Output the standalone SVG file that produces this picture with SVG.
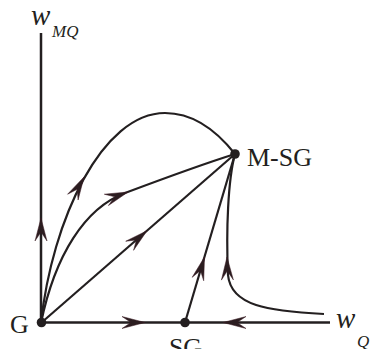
<svg xmlns="http://www.w3.org/2000/svg" width="370" height="349" viewBox="0 0 370 349">
<style>
.ln{fill:none;stroke:#231f20;stroke-width:2.2;stroke-linecap:butt}
.ax{fill:none;stroke:#231f20;stroke-width:2.5}
.ah{fill:#2b1d20;stroke:#3a1a22;stroke-width:0.5}
.dot{fill:#231f20}
.t{font-family:"Liberation Serif","Times New Roman",serif;fill:#231f20}
.m{font-family:"Liberation Serif","Times New Roman",serif;font-style:italic;fill:#231f20}
</style>
<defs>
<path id="ah" d="M0,0 L-23,-6 L-14,0 L-23,6 Z"/>
</defs>
<g id="connectors">
<path class="ax" d="M41,33 V323"/>
<path class="ax" d="M41,322.5 H330"/>
<path class="ln" d="M41,323 L235,154"/>
<path class="ln" d="M41,323 C55,255 85,208 125,193 S200,165 235,154"/>
<path class="ln" d="M41,323 C52,220 102,113 165,113 C197,113 220,135 235,154"/>
<path class="ln" d="M185,322.5 L235,154"/>
<path class="ln" d="M324,314 C268,311 231,306 228,275 C226,230 228,180 235,154"/>
<use href="#ah" class="ah" transform="translate(41,218) rotate(-90)"/>
<use href="#ah" class="ah" transform="translate(145,322.5)"/>
<use href="#ah" class="ah" transform="translate(223,322.5) rotate(180)"/>
<use href="#ah" class="ah" transform="translate(204.5,257) rotate(-73.4)"/>
<use href="#ah" class="ah" transform="translate(227,257) rotate(-91)"/>
<use href="#ah" class="ah" transform="translate(147,230.7) rotate(-41)"/>
<use href="#ah" class="ah" transform="translate(128,192) rotate(-20)"/>
<use href="#ah" class="ah" transform="translate(84,177) rotate(-61)"/>
</g>
<g id="node-G">
<circle class="dot" cx="41.5" cy="322.5" r="4.8"/>
<text class="t" x="10" y="333" font-size="26">G</text>
</g>
<g id="node-SG">
<circle class="dot" cx="185" cy="322.5" r="4.8"/>
<text class="t" x="185.5" y="356" font-size="26" text-anchor="middle">SG</text>
</g>
<g id="node-MSG">
<circle class="dot" cx="235" cy="154" r="4.8"/>
<text class="t" x="247" y="166" font-size="26">M-SG</text>
</g>
<g id="axis-labels">
<text class="m" x="31" y="25" font-size="29">w</text>
<text class="m" x="52" y="37" font-size="17">MQ</text>
<text class="m" x="336" y="328" font-size="29">w</text>
<text class="m" x="357" y="347" font-size="17">Q</text>
</g>
</svg>
